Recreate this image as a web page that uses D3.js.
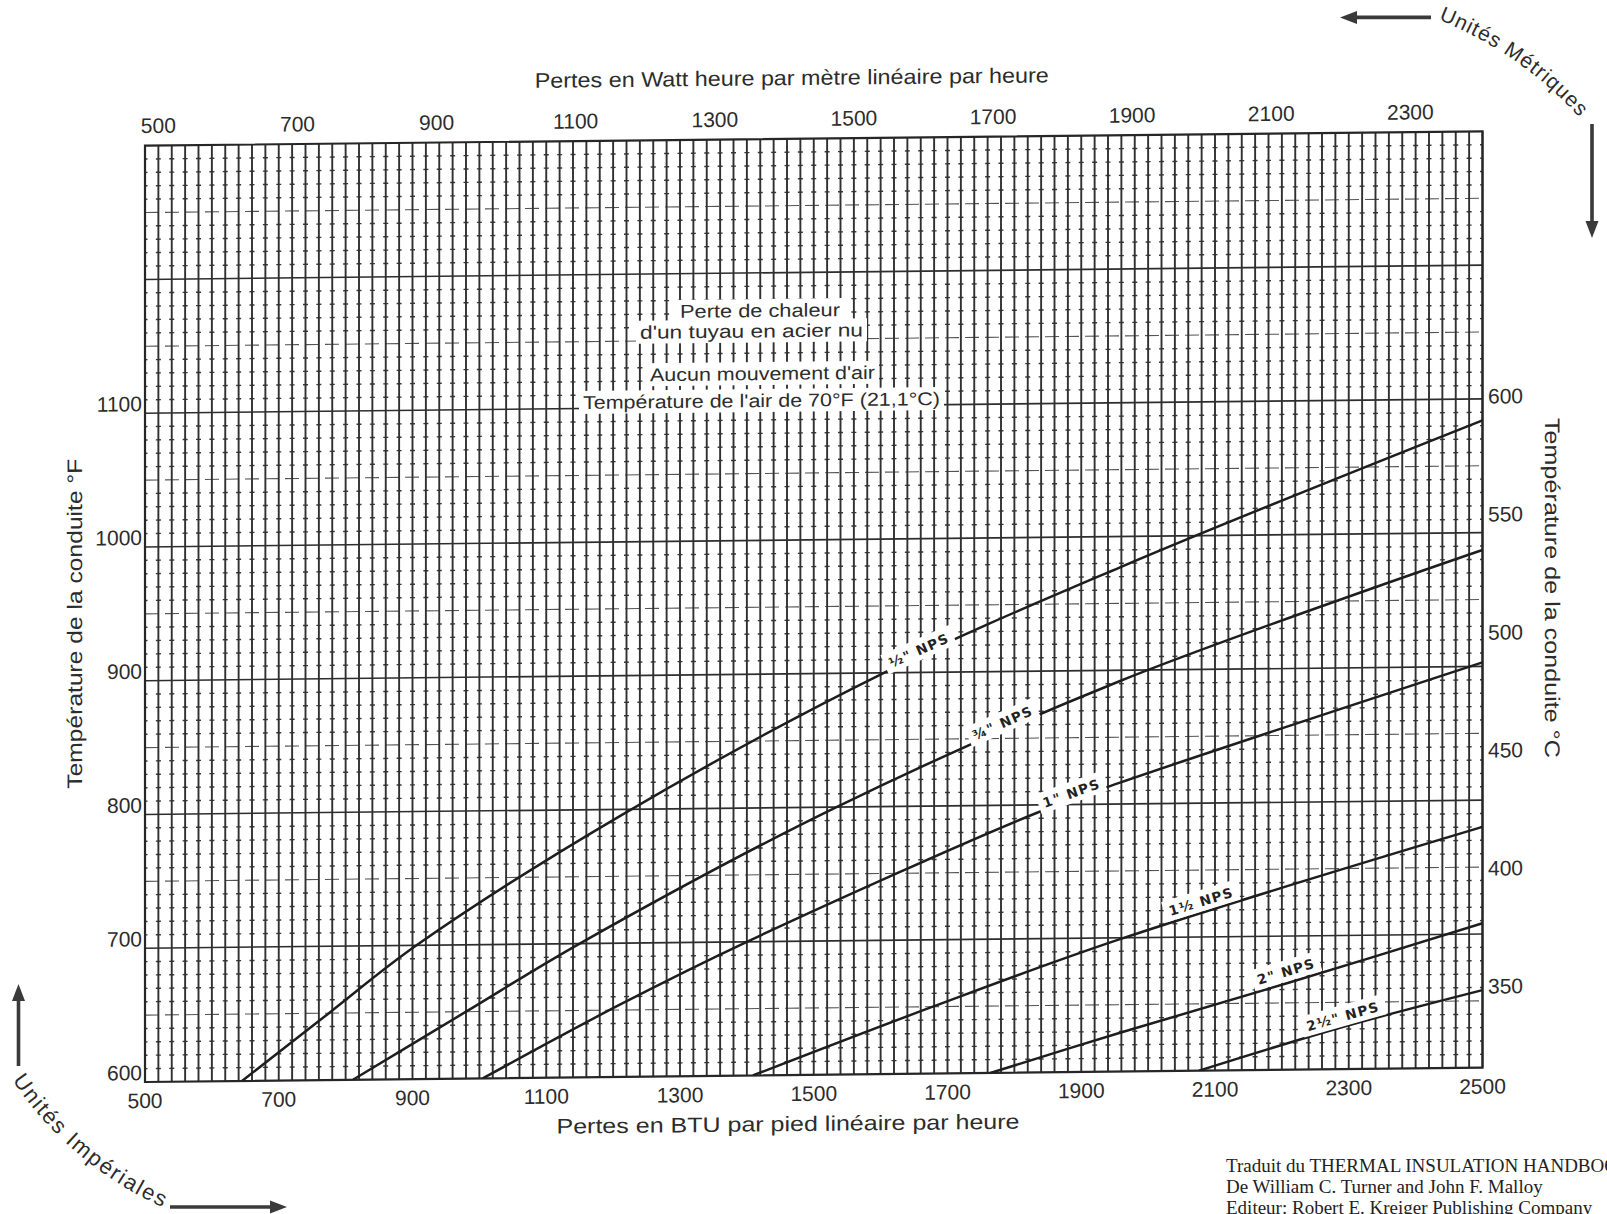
<!DOCTYPE html>
<html><head><meta charset="utf-8">
<script src="https://cdn.jsdelivr.net/npm/d3@7"></script>
<style>
html,body{margin:0;padding:0;background:#fff;}
svg{display:block;}
</style></head><body>
<svg id="chart" width="1607" height="1214" xmlns="http://www.w3.org/2000/svg" xmlns:xlink="http://www.w3.org/1999/xlink"></svg>
<script>
// ---------------- DATA ----------------
const btuTicks  = [500,700,900,1100,1300,1500,1700,1900,2100,2300,2500];
const wattTicks = [500,700,900,1100,1300,1500,1700,1900,2100,2300];
const degFTicks = [600,700,800,900,1000,1100];
const degCTicks = [350,400,450,500,550,600];

const seriesNames = ['½" NPS','¾" NPS','1" NPS','1½ NPS','2" NPS','2½" NPS'];
const btuHalf   = [645,775,906,1210,1605,1958,2500];
const degFHalf  = [600,650,700,795,900,977,1084];
const btu3q     = [811,980,1150,1534,1958,2500];
const degF3q    = [600,650,700,800,892,987];
const btuOne    = [1005,1210,1400,1833,1958,2500];
const degFOne   = [600,654,700,794,816,903];
const btuOneH   = [1409,1678,1958,2500];
const degFOneH  = [600,650,699,780];
const btuTwo    = [1764,1958,2210,2500];
const degFTwo   = [600,629,665,708];
const btuTwoH   = [2076,2287,2500];
const degFTwoH  = [600,631,658];

// label anchors (data space)
const labelBTU  = [1657,1782,1885,2079,2206,2291];
const labelDegF = [917,862,809,727,674,640];

const annotLines = ["Perte de chaleur","d'un tuyau en acier nu","Aucun mouvement d'air","Température de l'air de 70°F (21,1°C)"];
const footerLines = ["Traduit du THERMAL INSULATION HANDBOOK","De William C. Turner and John F. Malloy","Editeur: Robert E. Kreiger Publishing Company"];

const WATT_PER_BTU = 0.9615;

// ---------------- LAYOUT ----------------
const W = 1607, H = 1214;
const INK = '#2c2c2c';
const svg = d3.select('#chart');
svg.append('rect').attr('width',W).attr('height',H).attr('fill','#fff');
const defs = svg.append('defs');

const x0 = 145, x1 = 1482.5, yb = 1082, yt = 1082 - 700*1.3376;
const x  = d3.scaleLinear().domain([500,2500]).range([x0,x1]);
const y  = d3.scaleLinear().domain([600,1300]).range([yb,yt]);
const xW = d3.scaleLinear().domain([500*WATT_PER_BTU, 2500*WATT_PER_BTU]).range([x0,x1]);
const yC = d3.scaleLinear().domain([350,600]).range([1000.5,410.5]);

const tanS = 0.0107;
const skewDeg = -Math.atan(tanS)*180/Math.PI;
const g = svg.append('g').attr('transform',`translate(0,${x0*tanS}) skewY(${skewDeg})`);

defs.append('clipPath').attr('id','plotClip').append('rect')
  .attr('x',x0).attr('y',yt).attr('width',x1-x0).attr('height',yb-yt);

// ---------------- GRID ----------------
const grid = g.append('g');
const vLines = d3.range(500, 2501, 20);
const step = x(520)-x(500);
// minor cross ticks every 10°F
const minorF = d3.range(610, 1300, 10).filter(d => d % 50 !== 0);
grid.append('g').selectAll('line').data(minorF).join('line')
  .attr('x1',x0).attr('x2',x1).attr('y1',d=>y(d)).attr('y2',d=>y(d))
  .attr('stroke','#3a3a3a').attr('stroke-width',1.4)
  .attr('stroke-dasharray',`5 ${step-5}`).attr('stroke-dashoffset',2.5);
// half lines every 50°F
const halfF = d3.range(650, 1300, 100);
grid.append('g').selectAll('line').data(halfF).join('line')
  .attr('x1',x0).attr('x2',x1).attr('y1',d=>y(d)).attr('y2',d=>y(d))
  .attr('stroke','#555').attr('stroke-width',1.1).attr('stroke-dasharray','14 6');
// vertical lines
grid.append('g').selectAll('line').data(vLines).join('line')
  .attr('x1',d=>x(d)).attr('x2',d=>x(d)).attr('y1',yt).attr('y2',yb)
  .attr('stroke','#303030').attr('stroke-width',1.9);
// major horizontal lines every 100°F
const majorF = d3.range(700, 1300, 100);
grid.append('g').selectAll('line').data(majorF).join('line')
  .attr('x1',x0).attr('x2',x1).attr('y1',d=>y(d)).attr('y2',d=>y(d))
  .attr('stroke','#2e2e2e').attr('stroke-width',1.6);
// frame
g.append('rect').attr('x',x0).attr('y',yt).attr('width',x1-x0).attr('height',yb-yt)
  .attr('fill','none').attr('stroke','#262626').attr('stroke-width',2.2);

// ---------------- ANNOTATION BOX ----------------
const annotX = [760, 751.5, 762.5, 761.5];
const annotY = [323.6, 344, 386.6, 413.6];
const annotLen = [160, 223, 225, 357];
const ag = g.append('g');
annotLines.forEach((t,i) => {
  const bg = ag.append('rect').attr('fill','#fff');
  const tx = ag.append('text').attr('x',annotX[i]).attr('y',annotY[i])
    .attr('text-anchor','middle').attr('font-family','Liberation Sans, Arial, sans-serif')
    .attr('font-size',18.5).attr('fill',INK)
    .attr('textLength',annotLen[i]).attr('lengthAdjust','spacingAndGlyphs').text(t);
  const bb = tx.node().getBBox();
  bg.attr('x',bb.x-4).attr('y',bb.y-1).attr('width',bb.width+8).attr('height',bb.height+2);
});

// ---------------- CURVES ----------------
const series = [
  [btuHalf,degFHalf],[btu3q,degF3q],[btuOne,degFOne],
  [btuOneH,degFOneH],[btuTwo,degFTwo],[btuTwoH,degFTwoH]
];
const line = d3.line().x(d=>x(d[0])).y(d=>y(d[1])).curve(d3.curveCatmullRom.alpha(0.5));
const cg = g.append('g').attr('clip-path','url(#plotClip)');
series.forEach(([bx,by]) => {
  cg.append('path').datum(bx.map((b,i)=>[b,by[i]]))
    .attr('d',line).attr('fill','none').attr('stroke','#1e1e1e').attr('stroke-width',2.5);
});

// series labels
const lg = g.append('g');
series.forEach(([bx,by],i) => {
  const f = d3.scaleLinear().domain(bx).range(by);
  const b = labelBTU[i];
  const ang = Math.atan2(y(f(b+40))-y(f(b-40)), x(b+40)-x(b-40))*180/Math.PI;
  const grp = lg.append('g').attr('transform',`translate(${x(b)},${y(labelDegF[i])}) rotate(${ang})`);
  const bg = grp.append('rect').attr('fill','#fff');
  const tx = grp.append('text').attr('x',0).attr('y',5.5)
    .attr('text-anchor','middle').attr('font-family','DejaVu Sans, sans-serif')
    .attr('font-weight','bold').attr('font-size',13.5).attr('letter-spacing',1.3)
    .attr('fill','#222').text(seriesNames[i]);
  const bb = tx.node().getBBox();
  bg.attr('x',bb.x-5).attr('y',bb.y-3).attr('width',bb.width+10).attr('height',bb.height+5);
});

// ---------------- AXES LABELS ----------------
const axFont = 'Liberation Sans, Arial, sans-serif';
g.append('g').selectAll('text').data(btuTicks).join('text')
  .attr('x',d=>x(d)).attr('y',1108).attr('text-anchor','middle')
  .attr('font-family',axFont).attr('font-size',21).attr('fill',INK).text(d=>d);
g.append('g').selectAll('text').data(wattTicks).join('text')
  .attr('x',d=>xW(d)).attr('y',133).attr('text-anchor','middle')
  .attr('font-family',axFont).attr('font-size',21).attr('fill',INK).text(d=>d);
g.append('g').selectAll('text').data(degFTicks).join('text')
  .attr('x',142).attr('y',d=>y(d)-2).attr('text-anchor','end')
  .attr('font-family',axFont).attr('font-size',21).attr('fill',INK).text(d=>d);
g.append('g').selectAll('text').data(degCTicks).join('text')
  .attr('x',1488).attr('y',d=>yC(d)+7.5).attr('text-anchor','start')
  .attr('font-family',axFont).attr('font-size',21).attr('fill',INK).text(d=>d);

// titles
g.append('text').attr('x',791.8).attr('y',92).attr('text-anchor','middle')
  .attr('font-family',axFont).attr('font-size',21).attr('fill',INK)
  .attr('textLength',514).attr('lengthAdjust','spacingAndGlyphs')
  .text('Pertes en Watt heure par mètre linéaire par heure');
g.append('text').attr('x',788).attr('y',1138).attr('text-anchor','middle')
  .attr('font-family',axFont).attr('font-size',21).attr('fill',INK)
  .attr('textLength',463).attr('lengthAdjust','spacingAndGlyphs')
  .text('Pertes en BTU par pied linéaire par heure');
g.append('text').attr('transform','translate(82,623) rotate(-90)').attr('text-anchor','middle')
  .attr('font-family',axFont).attr('font-size',21).attr('fill',INK)
  .attr('textLength',330).attr('lengthAdjust','spacingAndGlyphs')
  .text('Température de la conduite °F');
g.append('text').attr('transform','translate(1545,603) rotate(90)').attr('text-anchor','middle')
  .attr('font-family',axFont).attr('font-size',21).attr('fill',INK)
  .attr('textLength',340).attr('lengthAdjust','spacingAndGlyphs')
  .text('Température de la conduite °C');

// ---------------- CORNER NOTES ----------------
function arrow(x1,y1,x2,y2){
  const a = Math.atan2(y2-y1,x2-x1), hl = 17, hw = 6.5;
  const bx = x2-hl*Math.cos(a), by = y2-hl*Math.sin(a);
  svg.append('line').attr('x1',x1).attr('y1',y1).attr('x2',bx).attr('y2',by)
    .attr('stroke','#3a3a3a').attr('stroke-width',3.6);
  svg.append('path').attr('fill','#3a3a3a')
    .attr('d',`M${x2},${y2}L${bx-hw*Math.sin(a)},${by+hw*Math.cos(a)}L${bx+hw*Math.sin(a)},${by-hw*Math.cos(a)}Z`);
}
function arcPath(cx,cy,r,a0,a1,sweep){
  const p = a => [cx+r*Math.cos(a*Math.PI/180), cy+r*Math.sin(a*Math.PI/180)];
  const s = p(a0), e = p(a1);
  return `M${s[0]},${s[1]}A${r},${r} 0 0 ${sweep} ${e[0]},${e[1]}`;
}
defs.append('path').attr('id','arcTR').attr('d',arcPath(1297.5,373.7,381,-68.3,-35,1));
defs.append('path').attr('id','arcBL').attr('d',arcPath(311.6,878.4,361,146,100,0));
const tTR = svg.append('text').attr('font-family',axFont).attr('font-size',21).attr('fill',INK).attr('letter-spacing',1);
tTR.append('textPath').attr('href','#arcTR').attr('xlink:href','#arcTR').text('Unités Métriques');
const tBL = svg.append('text').attr('font-family',axFont).attr('font-size',22).attr('fill',INK).attr('letter-spacing',1.8);
tBL.append('textPath').attr('href','#arcBL').attr('xlink:href','#arcBL').text('Unités Impériales');
arrow(1431,17.4,1340,17.4);
arrow(1592,124,1592,238);
arrow(18.5,1066,18.5,984);
arrow(170,1207,287,1207);

// footer
const fg = svg.append('g');
footerLines.forEach((t,i)=>{
  fg.append('text').attr('x',1226).attr('y',1172+i*21)
    .attr('font-family','Liberation Serif, Times New Roman, serif').attr('font-size',19)
    .attr('fill','#222').text(t);
});
</script>
</body></html>
